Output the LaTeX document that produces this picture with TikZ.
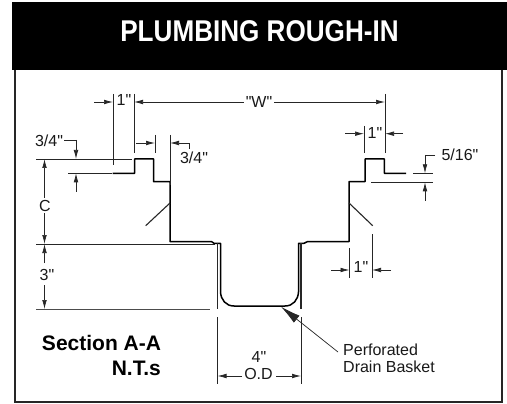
\documentclass[tikz,border=0pt]{standalone}
\usepackage{fontspec}
\setmainfont{Liberation Sans}[Ligatures=TeXOff]
\usetikzlibrary{arrows.meta}
\tikzset{
  x=1pt,y=-1pt,
  dim/.style={line width=0.7pt,black!85},
  wall/.style={line width=1.5pt,black,line join=round},
  thinwall/.style={line width=1.1pt,black!85},
  tip/.style={-{Latex[length=9pt,width=4.6pt]},line width=0.7pt,black!85},
  lab/.style={font=\fontsize{16}{17}\selectfont,inner sep=0pt,text=black!90},
  bold/.style={font=\bfseries\fontsize{21}{24}\selectfont,inner sep=0pt},
}
\begin{document}
\begin{tikzpicture}
\useasboundingbox (0,0) rectangle (507,404);
\fill[white] (0,0) rectangle (507,404);
\fill[black] (12,2) rectangle (507,70);
\draw[line width=2.5pt,black!85] (15,70) -- (15,402) -- (502,402) -- (502,70);
\node[font=\bfseries\fontsize{30}{34}\selectfont,text=white,inner sep=0pt] (title) at (259.5,31.5) {\scalebox{.87}[1]{PLUMBING ROUGH-IN}};
% drain body
\draw[wall] (112.7,173.3) -- (134.5,173.3) -- (134.5,159) -- (153.5,159) -- (153.5,181.7) -- (170,181.7) -- (170,241.7) -- (211.7,241.7) -- (214,243.3) -- (220.5,243.3) -- (220.5,292) .. controls (221,300) and (226,306) .. (234,306) -- (285,306) .. controls (293,306) and (298,300) .. (298.5,292) -- (298.5,243.3) -- (304,243.3) -- (307.3,241.7) -- (349,241.7) -- (349,181.7) -- (365,181.7) -- (365,159) -- (384.3,159) -- (384.3,173.3) -- (406,173.3);
\draw[thinwall] (217.5,243) -- (217.5,309);
\draw[thinwall] (301,243) -- (301,309);
\draw[thinwall] (170,203) -- (145.7,225.7);
\draw[thinwall] (349,203) -- (372.7,225.7);
% extension lines
\draw[dim] (113,94) -- (113,165);
\draw[dim] (134,94) -- (134,153);
\draw[dim] (155,135) -- (155,153);
\draw[dim] (170,135) -- (170,185);
\draw[dim] (385,94) -- (385,153);
\draw[dim] (364,126) -- (364,153);
\draw[dim] (36,159) -- (132,159);
\draw[dim] (68,173.3) -- (112,173.3);
\draw[dim] (371,182.3) -- (433,182.3);
\draw[dim] (413,173.3) -- (433,173.3);
\draw[dim] (36,244) -- (215,244);
\draw[line width=1pt,black!70] (36,309) -- (210,309);
\draw[dim] (372,234) -- (372,278);
\draw[dim] (349.5,248) -- (349.5,278);
\draw[dim] (217.5,317) -- (217.5,384);
\draw[dim] (301,317) -- (301,384);
% 1" top left
\coordinate (t1a) at (94,102);
\coordinate (t1b) at (113,102);
\coordinate (t1c) at (134,102);
\coordinate (t1d) at (385,102);
\draw[tip] (t1a) -- (t1b);
\node[lab] (d1) at (124,99.5) {1"};
\node[lab] (w) at (259,102) {"W"};
\draw[tip] (w.west) ++(-2,0) -- (t1c);
\draw[tip] (w.east) ++(2,0) -- (t1d);
% 3/4 left
\node[lab] (d2) at (49,141) {3/4"};
\coordinate (l1) at (76,140);
\coordinate (l2) at (76,159);
\coordinate (l3) at (76,192);
\coordinate (l4) at (76,173.3);
\draw[dim] (d2.east) ++(1,-1) -- (l1);
\draw[tip] (l1) -- (l2);
\draw[tip] (l3) -- (l4);
% 3/4 right
\coordinate (r1) at (136,143);
\coordinate (r2) at (155,143);
\coordinate (r3) at (189,149);
\coordinate (r4) at (189,143);
\coordinate (r5) at (170,143);
\draw[tip] (r1) -- (r2);
\draw[dim] (r3) -- (r4);
\draw[tip] (r4) -- (r5);
\node[lab] (d3) at (194,157.5) {3/4"};
% C
\node[lab] (c) at (45,205.5) {C};
\coordinate (c1) at (44.5,159);
\coordinate (c2) at (44.5,244);
\draw[tip] (c.north) ++(-0.5,-2) -- (c1);
\draw[tip] (c.south) ++(-0.5,2) -- (c2);
% 3"
\node[lab] (d4) at (47,275) {3"};
\coordinate (h1) at (44.5,263);
\coordinate (h2) at (44.5,244);
\coordinate (h3) at (44.5,285);
\coordinate (h4) at (44.5,309);
\draw[tip] (h1) -- (h2);
\draw[tip] (h3) -- (h4);
% 1" right top
\coordinate (u1) at (345,133.7);
\coordinate (u2) at (364,133.7);
\coordinate (u3) at (403,133.7);
\coordinate (u4) at (385,133.7);
\draw[tip] (u1) -- (u2);
\draw[tip] (u3) -- (u4);
\node[lab] (d5) at (375,133) {1"};
% 5/16
\node[lab] (d6) at (460,154.5) {5/16"};
\coordinate (f1) at (435,155);
\coordinate (f2) at (425,155);
\coordinate (f3) at (425,173.3);
\coordinate (f4) at (425,200.7);
\coordinate (f5) at (425,182.3);
\draw[dim] (f1) -- (f2);
\draw[tip] (f2) -- (f3);
\draw[tip] (f4) -- (f5);
% 1" bottom
\coordinate (b1) at (331,270);
\coordinate (b2) at (349.5,270);
\coordinate (b3) at (391,270);
\coordinate (b4) at (372,270);
\draw[tip] (b1) -- (b2);
\draw[tip] (b3) -- (b4);
\node[lab] (d7) at (361,267) {1"};
% 4" OD
\node[lab] (d8) at (259,357) {4"};
\node[lab] (d9) at (258.5,374) {O.D};
\coordinate (o1) at (217.5,376);
\coordinate (o2) at (301,376);
\draw[tip] (242,376) -- (o1);
\draw[tip] (276,376) -- (o2);
% labels
\node[bold] (s1) at (101.5,342.5) {Section A-A};
\node[bold,anchor=east] (s2) at (161,368.5) {N.T.s};
\node[lab,align=left,anchor=west] (p) at (343,358.5) {Perforated\\Drain Basket};
\coordinate (p1) at (338,352);
\coordinate (p2) at (281,306.7);
\draw[-{Latex[length=20pt,width=9pt]},line width=0.7pt,black!85] (p1) -- (p2);
\end{tikzpicture}
\end{document}
